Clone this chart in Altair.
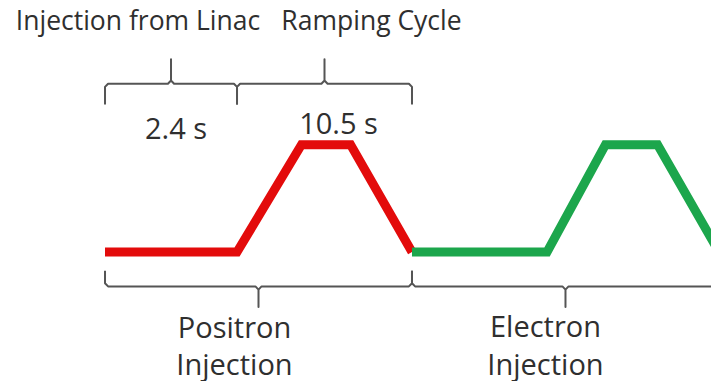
import altair as alt
import pandas as pd

# ---- data (schematic time units: one injection cycle = 10 units) ----
red_t = [0.0, 4.3, 6.4, 8.0, 10.0]
red_level = [0, 0, 1, 1, 0]
green_t = [10.0, 14.4, 16.3, 18.0, 20.0]
green_level = [0, 0, 1, 1, 0]

phase_labels = ["Injection from Linac", "Ramping Cycle"]
phase_start = [0.0, 4.3]
phase_end = [4.3, 10.0]
phase_durations = ["2.4 s", "10.5 s"]

species_first = ["Positron", "Electron"]
species_second = ["Injection", "Injection"]
species_start = [0.0, 10.0]
species_end = [10.0, 20.0]

# ---- layout constants ----
TOP_H, TOP_END, TOP_TIP = 1.569, 1.376, 1.798
BOT_H, BOT_END, BOT_TIP = -0.321, -0.174, -0.514
R, D = 0.1, 0.03
FONT = "Open Sans"
TXT = "#2f2f2f"

xs = alt.Scale(domain=[-3.16, 19.74], nice=False, zero=False)
ys = alt.Scale(domain=[-1.147, 2.275], nice=False, zero=False)


def brace(a, b, h, e, t, gid):
    m = (a + b) / 2
    se = 1 if e > h else -1
    st = 1 if t > h else -1
    pts = [
        (a, e), (a, h + se * D), (a + R, h), (m - R, h), (m, h + st * D), (m, t),
        (m, h + st * D), (m + R, h), (b - R, h), (b, h + se * D), (b, e),
    ]
    return [dict(g=gid, o=i, x=px, y=py) for i, (px, py) in enumerate(pts)]


rows = []
for i in range(len(phase_start)):
    rows += brace(phase_start[i], phase_end[i], TOP_H, TOP_END, TOP_TIP, f"t{i}")
for i in range(len(species_start)):
    rows += brace(species_start[i], species_end[i], BOT_H, BOT_END, BOT_TIP, f"b{i}")
braces_df = pd.DataFrame(rows)

red_df = pd.DataFrame({"t": red_t, "v": red_level, "o": range(len(red_t))})
green_df = pd.DataFrame({"t": green_t, "v": green_level, "o": range(len(green_t))})

braces = alt.Chart(braces_df).mark_line(
    color="#555555", strokeWidth=2, clip=True, strokeJoin="round"
).encode(
    x=alt.X("x:Q", scale=xs, axis=None),
    y=alt.Y("y:Q", scale=ys, axis=None),
    detail="g:N",
    order="o:Q",
)


def cycle_line(df, color):
    return alt.Chart(df).mark_line(
        color=color, strokeWidth=9, clip=True, strokeJoin="miter", strokeCap="butt"
    ).encode(
        x=alt.X("t:Q", scale=xs, axis=None),
        y=alt.Y("v:Q", scale=ys, axis=None),
        order="o:Q",
    )


def label(text, xval, yval, dx, dy, size):
    df = pd.DataFrame({"x": [xval], "y": [yval], "txt": [text]})
    return alt.Chart(df).mark_text(
        font=FONT, fontSize=size, color=TXT, align="center",
        baseline="alphabetic", dx=dx, dy=dy,
    ).encode(
        x=alt.X("x:Q", scale=xs, axis=None),
        y=alt.Y("y:Q", scale=ys, axis=None),
        text="txt:N",
    )


mid_p = [(a + b) / 2 for a, b in zip(phase_start, phase_end)]
mid_s = [(a + b) / 2 for a, b in zip(species_start, species_end)]

labels = [
    label(phase_labels[0], mid_p[0], TOP_TIP, -33, -29, 26.5),
    label(phase_labels[1], mid_p[1], TOP_TIP, 47, -29, 26.5),
    label(phase_durations[0], mid_p[0], TOP_END, 5, 35, 29),
    label(phase_durations[1], mid_p[1], TOP_END, 14, 30, 29),
    label(species_first[0], mid_s[0], BOT_TIP, -24, 31, 29),
    label(species_second[0], mid_s[0], BOT_TIP, -24, 68, 29),
    label(species_first[1], mid_s[1], BOT_TIP, -20, 30, 29),
    label(species_second[1], mid_s[1], BOT_TIP, -20, 68, 29),
]

chart = alt.layer(
    braces, cycle_line(red_df, "#e30b0b"), cycle_line(green_df, "#1ca64c"), *labels
).properties(
    width=703, height=373, padding=0,
    autosize=alt.AutoSizeParams(type="fit", contains="padding"),
).configure_view(stroke=None)

chart.save("out.html", embed_options={"renderer": "svg", "actions": False})
